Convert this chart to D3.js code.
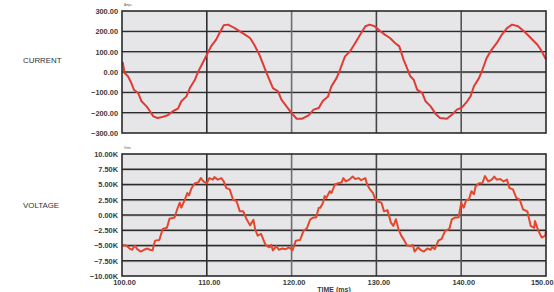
<!DOCTYPE html>
<html><head><meta charset="utf-8">
<script src="https://cdn.jsdelivr.net/npm/d3@7"></script>
<style>body{margin:0;background:#fff}svg{display:block}</style>
</head><body>
<script>
// ---- data ----
const currentTime = [100.0,100.1,100.3,100.7,101.1,101.4,101.9,102.3,102.9,103.3,103.7,104.2,104.6,105.4,106.0,106.6,107.0,107.6,108.0,108.6,109.0,109.6,110.1,110.5,111.1,111.5,112.0,112.5,113.3,113.9,114.5,115.1,115.6,116.2,116.9,117.3,117.8,118.4,118.8,119.4,120.0,120.6,121.2,122.0,122.6,123.2,123.7,124.3,124.7,125.3,125.7,126.3,126.9,127.5,128.1,128.7,129.2,129.8,130.4,131.0,131.6,132.2,132.7,133.2,133.6,134.0,134.4,134.8,135.4,135.8,136.4,137.0,137.5,138.3,138.9,139.5,140.1,140.7,141.1,141.5,142.1,142.5,143.0,143.6,144.2,144.8,145.4,146.0,146.7,147.4,147.8,148.4,149.0,149.5,150.0];
const currentAmps = [50,44,-5,-21,-54,-87,-103,-144,-169,-193,-218,-226,-223,-213,-193,-180,-144,-120,-79,-38,3,52,93,126,159,192,230,233,216,200,184,167,134,85,11,-30,-79,-95,-136,-169,-202,-230,-230,-213,-185,-177,-141,-120,-70,-30,11,77,102,143,184,225,233,225,203,184,167,143,126,61,20,-21,-38,-87,-103,-144,-169,-207,-226,-230,-210,-185,-174,-144,-120,-70,-30,11,69,110,143,184,216,233,225,200,184,159,134,102,61];
const voltageTime = [100.0,100.5,100.9,101.2,101.5,101.8,102.2,102.6,103.0,103.3,103.6,103.9,104.4,104.8,105.3,105.6,106.2,106.5,106.8,107.0,107.4,107.7,107.9,108.2,108.6,109.0,109.3,109.6,110.0,110.3,110.7,110.9,111.3,111.7,112.0,112.3,112.7,113.1,113.5,113.9,114.3,114.7,115.1,115.5,115.7,116.0,116.4,116.8,117.0,117.4,117.6,117.8,118.2,118.5,118.9,119.3,119.7,120.1,120.5,121.0,121.4,121.8,122.2,122.6,122.9,123.2,123.4,123.7,123.9,124.1,124.5,124.7,125.1,125.5,125.9,126.1,126.4,126.8,127.2,127.5,127.9,128.2,128.7,128.9,129.2,129.6,129.8,130.1,130.6,130.9,131.3,131.7,132.0,132.3,132.6,132.9,133.3,133.6,134.0,134.3,134.5,134.9,135.2,135.6,136.0,136.4,136.6,136.9,137.3,137.7,138.1,138.6,138.9,139.3,139.7,140.0,140.3,140.6,140.9,141.2,141.5,141.7,142.1,142.5,142.8,143.2,143.6,143.9,144.2,144.6,145.0,145.4,145.7,146.1,146.5,146.9,147.3,147.8,148.2,148.6,148.7,149.1,149.5,149.9,150.0];
const voltageK = [-4.9,-5.0,-5.5,-5.7,-5.0,-5.6,-6.0,-5.7,-5.5,-5.7,-5.8,-4.2,-4.1,-2.3,-2.1,-0.6,-0.4,0.9,2.0,1.2,2.5,3.6,3.2,4.4,5.2,5.35,6.05,5.5,5.2,6.05,5.8,6.2,5.8,6.05,5.5,4.4,4.2,2.5,2.3,0.6,0.6,-0.7,-1.7,-0.8,-2.3,-3.4,-3.1,-4.5,-5.0,-5.3,-4.9,-5.8,-5.1,-5.7,-5.5,-5.6,-5.3,-5.8,-4.2,-4.1,-2.6,-2.2,-0.7,-0.4,-0.4,1.2,1.2,2.0,3.1,2.8,3.9,3.6,5.0,5.2,5.35,6.05,5.5,5.8,6.3,5.9,6.05,5.7,6.05,5.0,4.3,3.6,2.8,2.3,2.0,0.6,0.8,-1.2,-1.8,-0.7,-2.3,-3.3,-4.2,-5.0,-5.1,-4.9,-6.0,-5.3,-5.7,-6.0,-5.5,-5.7,-5.2,-5.6,-4.2,-3.9,-2.6,-2.3,-0.7,-0.4,-0.4,2.0,1.2,2.5,2.5,3.9,3.4,4.7,5.2,5.2,6.4,5.5,5.8,6.3,5.8,5.9,5.5,5.8,4.4,4.2,2.8,2.5,0.9,0.6,-1.8,-2.1,-1.0,-2.6,-3.7,-3.4,-2.6];
const currentTicks = [300,200,100,0,-100,-200,-300];
const voltageTicks = [10,7.5,5,2.5,0,-2.5,-5,-7.5,-10];
const timeTicks = [100,110,120,130,140,150];
const panelLabels = ["CURRENT","VOLTAGE"];
const unitLabels = ["Amps","Vrms"];

// ---- layout ----
const W = 554, H = 292;
const svg = d3.select("body").append("svg").attr("width", W).attr("height", H);
const x = d3.scaleLinear().domain([100,150]).range([122,546]);
const yI = d3.scaleLinear().domain([-300,300]).range([133,11]);
const yV = d3.scaleLinear().domain([-10,10]).range([276,154]);
const vColors = {110:"#2e2e2e",120:"#6e6e6e",130:"#444",140:"#555"};

function panel(y, ticks, fmt, top, bottom, label, labelY, unit, lineColor, times, vals){
  const g = svg.append("g");
  g.append("rect").attr("x",122).attr("y",top).attr("width",424).attr("height",bottom-top).attr("fill","#e6e6e9");
  ticks.filter(t => y(t) > top+1 && y(t) < bottom-1).forEach(t => {
    g.append("line").attr("x1",122).attr("x2",546).attr("y1",y(t)+1).attr("y2",y(t)+1).attr("stroke","#bdbdbd").attr("stroke-width",1);
    g.append("line").attr("x1",122).attr("x2",546).attr("y1",y(t)).attr("y2",y(t)).attr("stroke","#2b2b2b").attr("stroke-width",1.3);
  });
  [110,120,130,140].forEach(t => {
    g.append("line").attr("x1",x(t)).attr("x2",x(t)).attr("y1",top).attr("y2",bottom).attr("stroke",vColors[t]).attr("stroke-width",1.6);
  });
  const line = d3.line().x((d,i)=>x(times[i])).y(d=>y(d)).curve(d3.curveLinear);
  g.append("path").datum(vals).attr("d",line).attr("fill","none").attr("stroke",lineColor).attr("stroke-width",2).attr("stroke-linejoin","round");
  g.append("rect").attr("x",122).attr("y",top).attr("width",424).attr("height",bottom-top).attr("fill","none").attr("stroke","#2b2b2b").attr("stroke-width",1.6);
  const ax = d3.axisLeft(y).tickValues(ticks).tickFormat(fmt).tickSize(0).tickPadding(4);
  const a = g.append("g").attr("transform","translate(122,0)").call(ax);
  a.select(".domain").remove();
  a.selectAll("text").attr("font-family","Liberation Sans, Arial, sans-serif").attr("font-size","7.4px").attr("font-weight","bold").attr("fill","#3a3a3a");
  g.append("text").attr("x",124).attr("y",top-5).attr("font-family","Liberation Sans, Arial, sans-serif").attr("font-size","3px").attr("fill","#555").text(unit);
  g.append("text").attr("x",23).attr("y",labelY).attr("dy","0.35em").attr("font-family","Liberation Sans, Arial, sans-serif").attr("font-size","7.9px").attr("fill","#2a3444").text(label);
}
panel(yI, currentTicks, d=>d3.format(".2f")(d), 11, 133, panelLabels[0], 60, unitLabels[0], "#e03a35", currentTime, currentAmps);
panel(yV, voltageTicks, d=>d3.format(".2f")(d)+"K", 154, 276, panelLabels[1], 205, unitLabels[1], "#e2482e", voltageTime, voltageK);

const xa = svg.append("g").attr("transform","translate(0,276)")
  .call(d3.axisBottom(x).tickValues(timeTicks).tickFormat(d=>d3.format(".2f")(d)).tickSize(0).tickPadding(4));
xa.select(".domain").remove();
xa.selectAll("text").attr("font-family","Liberation Sans, Arial, sans-serif").attr("font-size","7.4px").attr("font-weight","bold").attr("fill","#3a3a3a").attr("dx","2");
xa.selectAll(".tick").filter(d => d === 150).select("text").attr("text-anchor","end").attr("dx", 553 - x(150));
svg.append("text").attr("x",334).attr("y",292).attr("text-anchor","middle").attr("font-family","Liberation Sans, Arial, sans-serif").attr("font-size","7px").attr("font-weight","bold").attr("fill","#3a3a3a").text("TIME (ms)");
</script>
</body></html>
